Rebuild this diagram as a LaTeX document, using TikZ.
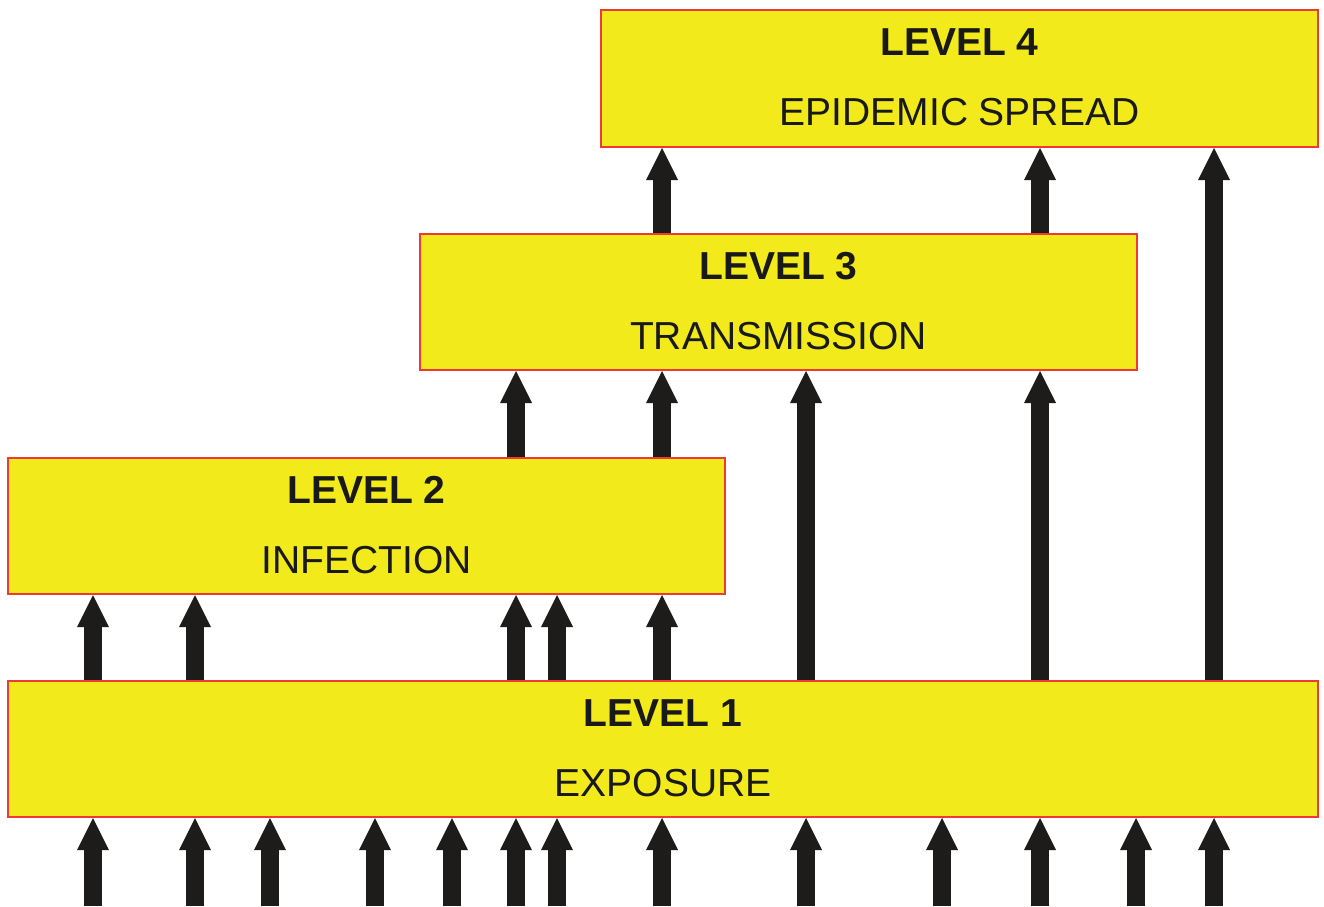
\documentclass[tikz,border=0pt]{standalone}
\usepackage{fontspec}
\setmainfont{Liberation Sans}
\usetikzlibrary{arrows.meta,calc}
\definecolor{boxyellow}{RGB}{242,234,26}
\definecolor{boxred}{RGB}{238,58,52}
\definecolor{arrowblack}{RGB}{30,27,27}
\begin{document}
\begin{tikzpicture}[x=1pt,y=-1pt,
  levelbox/.style={draw=boxred,line width=2pt,fill=boxyellow,inner sep=0pt},
  headtext/.style={font=\fontsize{39}{39}\selectfont\bfseries,anchor=base,inner sep=0pt,text=black!90},
  subtext/.style={font=\fontsize{39}{39}\selectfont,anchor=base,inner sep=0pt,text=black!90},
  uparrow/.style={draw=arrowblack,line width=18pt,line cap=butt,
    -{Triangle[length=32pt,width=32pt,line width=0pt]}}]
\useasboundingbox (0,0) rectangle (1324,906);
% boxes
\node[levelbox,minimum width=717pt,minimum height=137pt] (l4) at (959.5,78.5) {};
\node[levelbox,minimum width=717pt,minimum height=136pt] (l3) at (778.5,302) {};
\node[levelbox,minimum width=717pt,minimum height=136pt] (l2) at (366.5,526) {};
\node[levelbox,minimum width=1310pt,minimum height=136pt] (l1) at (663,749) {};
% texts
\node[headtext] (h4) at ($(l4.north)+(0,46.5)$) {LEVEL 4};
\node[subtext]  (s4) at ($(l4.north)+(0,116.5)$) {EPIDEMIC SPREAD};
\node[headtext] (h3) at ($(l3.north)+(0,46.5)$) {LEVEL 3};
\node[subtext]  (s3) at ($(l3.north)+(0,116.5)$) {TRANSMISSION};
\node[headtext] (h2) at ($(l2.north)+(0,46.5)$) {LEVEL 2};
\node[subtext]  (s2) at ($(l2.north)+(0,116.5)$) {INFECTION};
\node[headtext] (h1) at ($(l1.north)+(0,46.5)$) {LEVEL 1};
\node[subtext]  (s1) at ($(l1.north)+(0,116.5)$) {EXPOSURE};
% incoming arrows into level 1
\foreach \x [count=\i] in {93,195,270,375,452,516,557,662,806,942,1040,1136,1214}{
  \coordinate (in\i) at (\x,906);
  \draw[uparrow] (in\i) -- (l1.south -| in\i);
}
% level 1 -> level 2
\foreach \x in {93,195,516,557,662}{
  \draw[uparrow] (l1.north -| \x,0) -- (l2.south -| \x,0);
}
% level 1 -> level 3
\foreach \x in {806,1040}{
  \draw[uparrow] (l1.north -| \x,0) -- (l3.south -| \x,0);
}
% level 1 -> level 4
\draw[uparrow] (l1.north -| 1214,0) -- (l4.south -| 1214,0);
% level 2 -> level 3
\foreach \x in {516,662}{
  \draw[uparrow] (l2.north -| \x,0) -- (l3.south -| \x,0);
}
% level 3 -> level 4
\foreach \x in {662,1040}{
  \draw[uparrow] (l3.north -| \x,0) -- (l4.south -| \x,0);
}
\end{tikzpicture}
\end{document}
